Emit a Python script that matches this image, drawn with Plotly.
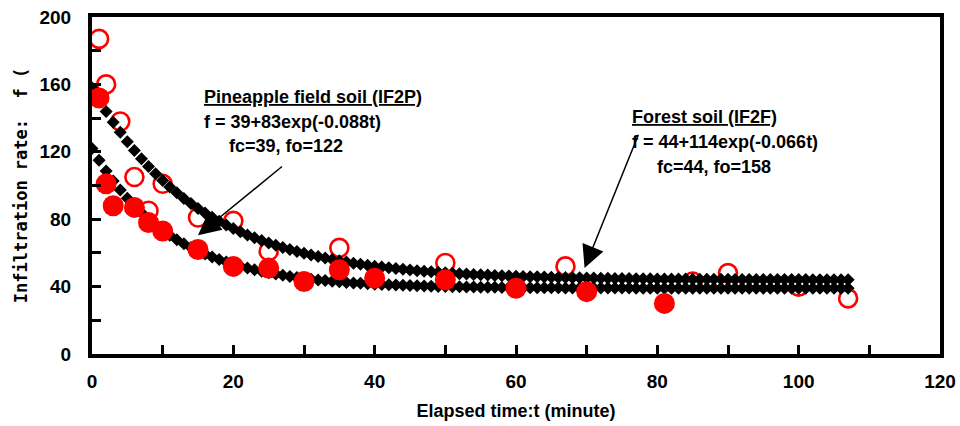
import numpy as np
import plotly.graph_objects as go

# Observed data: forest soil (IF2F) - open circles
forest_t = [1, 2, 4, 6, 8, 10, 15, 20, 25, 35, 50, 67, 85, 90, 100, 107]
forest_f = [187, 160, 138, 105, 85, 101, 81, 79, 61, 63, 54, 52, 43, 48, 40, 33]

# Observed data: pineapple field soil (IF2P) - filled circles
pine_t = [1, 2, 3, 6, 8, 10, 15, 20, 25, 30, 35, 40, 50, 60, 70, 81]
pine_f = [152, 101, 88, 87, 78, 73, 62, 52, 51, 43, 50, 45, 44, 39, 37, 30]

# Fitted Horton model parameters shown on the chart: f = fc + (fo - fc) exp(-k t)
forest_fc, forest_fo, forest_k = 44, 158, 0.066
pine_fc, pine_fo, pine_k = 39, 122, 0.088
model_t = np.arange(0, 108, 1)

forest_model = forest_fc + (forest_fo - forest_fc) * np.exp(-forest_k * model_t)
pine_model = pine_fc + (pine_fo - pine_fc) * np.exp(-pine_k * model_t)

x_ticks = [0, 20, 40, 60, 80, 100, 120]
y_ticks = [0, 40, 80, 120, 160, 200]

fig = go.Figure()
fig.add_trace(go.Scatter(x=forest_t, y=forest_f, mode="markers",
                         marker=dict(symbol="circle-open", size=18, color="#ff0000",
                                     line=dict(width=2.6, color="#ff0000")),
                         showlegend=False))
fig.add_trace(go.Scatter(x=model_t, y=forest_model, mode="markers",
                         marker=dict(symbol="diamond", size=10, color="black"),
                         showlegend=False))
fig.add_trace(go.Scatter(x=model_t, y=pine_model, mode="markers",
                         marker=dict(symbol="diamond", size=10, color="black"),
                         showlegend=False))
fig.add_trace(go.Scatter(x=pine_t, y=pine_f, mode="markers",
                         marker=dict(symbol="circle", size=21, color="#ff0000"),
                         showlegend=False))

txt_font = dict(family="Liberation Sans, Arial", size=18, color="black", weight="bold")
fig.add_annotation(x=15.5, y=152.5, xref="x", yref="y", xanchor="left", yanchor="middle",
                   text="<u>Pineapple field soil (IF2P)</u>", showarrow=False, font=txt_font)
fig.add_annotation(x=15.5, y=137.7, xref="x", yref="y", xanchor="left", yanchor="middle",
                   text="f = 39+83exp(-0.088t)", showarrow=False, font=txt_font)
fig.add_annotation(x=19.1, y=123.4, xref="x", yref="y", xanchor="left", yanchor="middle",
                   text="fc=39, fo=122", showarrow=False, font=txt_font)

fig.add_annotation(x=76.2, y=140.7, xref="x", yref="y", xanchor="left", yanchor="middle",
                   text="<u>Forest soil (IF2F)</u>", showarrow=False, font=txt_font)
fig.add_annotation(x=76.2, y=125.8, xref="x", yref="y", xanchor="left", yanchor="middle",
                   text="f = 44+114exp(-0.066t)", showarrow=False, font=txt_font)
fig.add_annotation(x=79.6, y=111, xref="x", yref="y", xanchor="left", yanchor="middle",
                   text="fc=44, fo=158", showarrow=False, font=txt_font)

# arrows
fig.add_annotation(x=15.0, y=70.5, ax=27.1, ay=112, xref="x", yref="y", axref="x", ayref="y",
                   text="", showarrow=True, arrowhead=2, arrowsize=3, arrowwidth=1.5,
                   arrowcolor="black")
fig.add_annotation(x=69.7, y=51, ax=77.4, ay=131, xref="x", yref="y", axref="x", ayref="y",
                   text="", showarrow=True, arrowhead=2, arrowsize=3, arrowwidth=1.5,
                   arrowcolor="black")

tick_font = dict(family="Liberation Sans, Arial", size=19, color="black", weight="bold")
fig.update_layout(
    width=960, height=426,
    margin=dict(l=92, r=20, t=17, b=72, autoexpand=False),
    paper_bgcolor="white", plot_bgcolor="white",
    xaxis=dict(range=[0, 120], tickvals=x_ticks, ticktext=[str(v) for v in x_ticks],
               automargin=False,
               showgrid=False, zeroline=False, showline=True, mirror=True,
               linecolor="black", linewidth=4, ticks="inside", ticklen=9, tickwidth=3,
               tickcolor="black", tickfont=tick_font, ticklabelstandoff=7,
               ticklabeloverflow="allow",
               minor=dict(dtick=10, ticks="inside", ticklen=9, tickwidth=3, tickcolor="black"),
               title=dict(text="Elapsed time:t (minute)", standoff=15,
                          font=dict(family="Liberation Sans, Arial", size=18, color="black",
                                    weight="bold"))),
    yaxis=dict(range=[0, 200], tickvals=y_ticks, ticktext=[str(v) for v in y_ticks],
               automargin=False,
               showgrid=False, zeroline=False, showline=True, mirror=True,
               linecolor="black", linewidth=4, ticks="inside", ticklen=9, tickwidth=3,
               tickcolor="black", tickfont=tick_font, ticklabelstandoff=13,
               ticklabeloverflow="allow",
               minor=dict(dtick=20, ticks="inside", ticklen=9, tickwidth=3, tickcolor="black"),
               title=dict(text="Infiltration rate:  f (\u00a0", standoff=9,
                          font=dict(family="DejaVu Sans Mono", size=17, color="black",
                                    weight="bold"))),
)
fig.write_html("out.html", config={"displayModeBar": False},
               post_script="document.body.style.margin='0';document.body.style.overflow='hidden';")
